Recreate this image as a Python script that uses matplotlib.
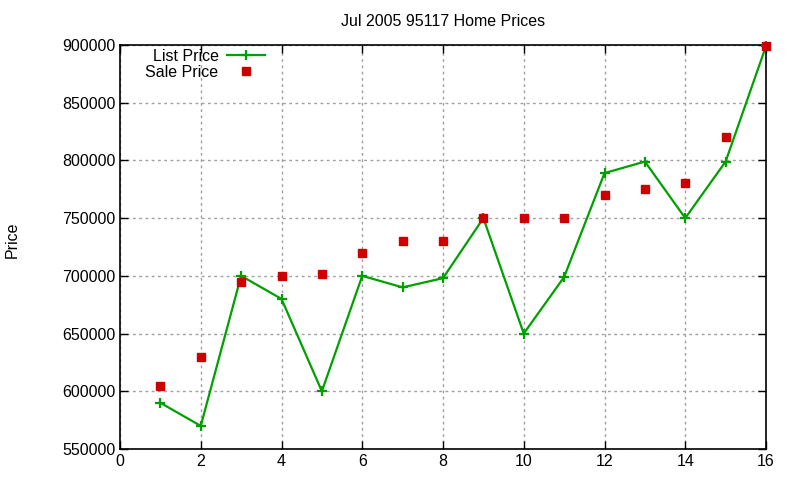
import matplotlib
matplotlib.use('Agg')
import matplotlib.pyplot as plt

# Listing data, July 2005, zip 95117
homes = list(range(1, 17))
list_price = [590000, 570000, 700000, 680000, 600000, 700000, 690000, 698000,
              750000, 650000, 699000, 789000, 799000, 750000, 799000, 899000]
sale_price = [605000, 630000, 695000, 700000, 702000, 720000, 730000, 730000,
              750000, 750000, 750000, 770000, 775000, 780000, 820000, 899000]

plt.rcParams['font.family'] = ['Liberation Sans', 'DejaVu Sans']

fig = plt.figure(figsize=(8, 4.8), dpi=100)
ax = fig.add_axes([0.15, 0.0646, 0.8075, 0.8417])

ax.plot(homes, list_price, color='#00a000', lw=1.6, marker='+', ms=7, mew=1.6,
        label='List Price', clip_on=False, zorder=3)
ax.plot(homes, sale_price, ls='none', color='#cc0000', marker='s', ms=6,
        label='Sale Price', clip_on=False, zorder=4)

ax.set_xlim(0, 16)
ax.set_ylim(550000, 900000)
ax.set_xticks(range(0, 17, 2))
ax.set_yticks(range(550000, 900001, 50000))
ax.ticklabel_format(style='plain', axis='y', useOffset=False)
ax.grid(True, color='#a0a0a0', ls=(0, (2, 2.5)), lw=1)
ax.tick_params(direction='in', top=True, right=True, labelsize=11.5, length=6, width=1)
for s in ax.spines.values():
    s.set_linewidth(1.2)

ax.set_title('Jul 2005 95117 Home Prices', fontsize=11.5, pad=14)
fig.text(0.015, 0.5, 'Price', rotation=90, va='center', ha='center', fontsize=11.5)

leg = ax.legend(loc='upper left', markerfirst=False, frameon=False, fontsize=11.5,
                handlelength=2.4, handletextpad=0.5, labelspacing=0.05,
                borderaxespad=0.1, bbox_to_anchor=(0.027, 1.01))
for t in leg.get_texts():
    t.set_ha('right')

fig.savefig('out.png', dpi=100)
